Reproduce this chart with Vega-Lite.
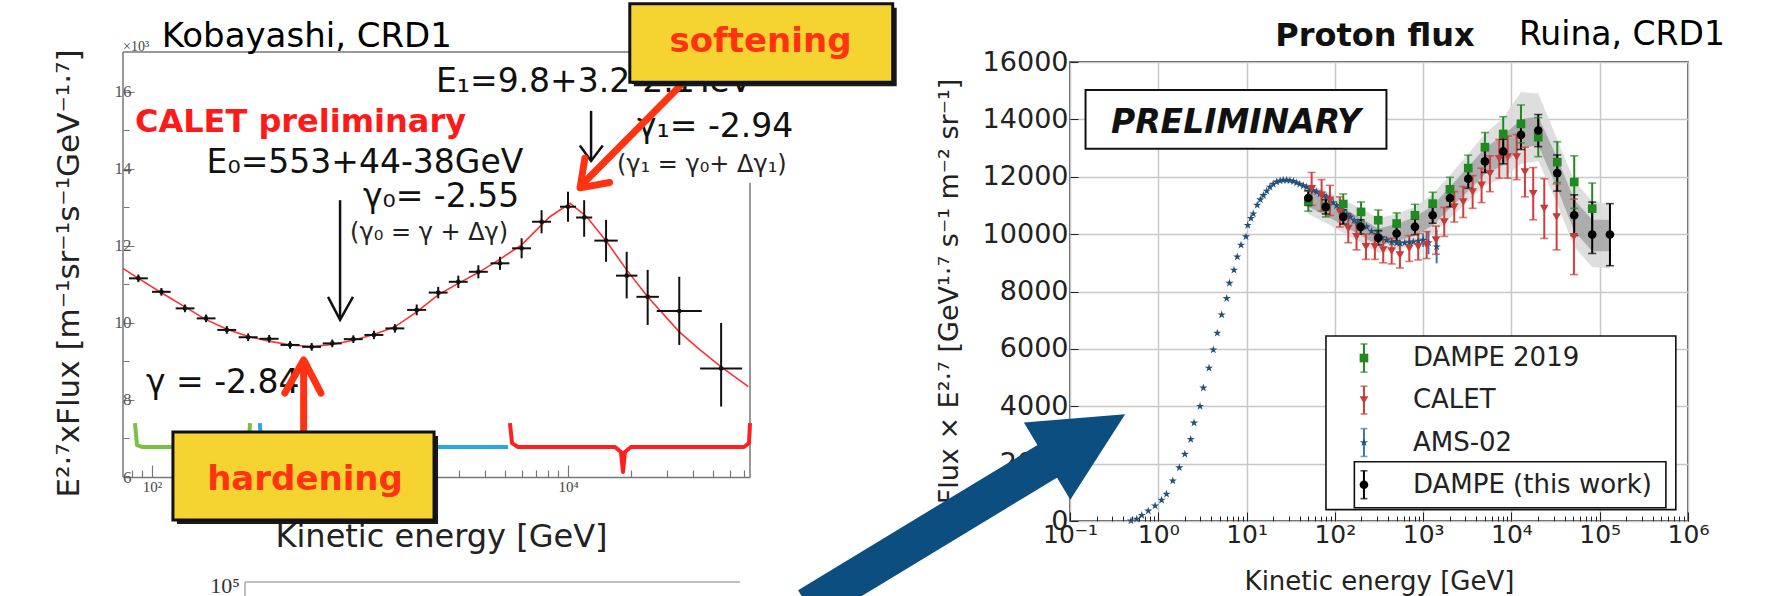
{
"$schema": "https://vega.github.io/schema/vega-lite/v6.json",
"autosize": {"type": "none"},
"padding": {"left": 123, "top": 62, "right": 1659, "bottom": 534},
"background": "white",
"spacing": 320,
"bounds": "flush",
"config": {"view": {"stroke": null}, "font": "DejaVu Sans"},
"resolve": {"scale": {"color": "independent"}, "legend": {"color": "independent"}},
"datasets": {
"calet": [
{"E":86,"v":11.16,"xlo":77.5,"xhi":95.5,"ylo":11.06,"yhi":11.26},
{"E":111,"v":10.81,"xlo":100,"xhi":123,"ylo":10.71,"yhi":10.91},
{"E":144,"v":10.38,"xlo":130,"xhi":160,"ylo":10.28,"yhi":10.48},
{"E":182,"v":10.12,"xlo":164,"xhi":202,"ylo":10.02,"yhi":10.22},
{"E":229,"v":9.82,"xlo":206,"xhi":254,"ylo":9.72,"yhi":9.92},
{"E":290,"v":9.63,"xlo":261,"xhi":322,"ylo":9.53,"yhi":9.73},
{"E":366,"v":9.59,"xlo":329,"xhi":406,"ylo":9.49,"yhi":9.69},
{"E":461,"v":9.43,"xlo":415,"xhi":512,"ylo":9.33,"yhi":9.53},
{"E":586,"v":9.38,"xlo":527,"xhi":650,"ylo":9.28,"yhi":9.48},
{"E":736,"v":9.47,"xlo":662,"xhi":817,"ylo":9.37,"yhi":9.57},
{"E":929,"v":9.58,"xlo":836,"xhi":1031,"ylo":9.48,"yhi":9.68},
{"E":1167,"v":9.69,"xlo":1050,"xhi":1295,"ylo":9.58,"yhi":9.8},
{"E":1472,"v":9.86,"xlo":1325,"xhi":1634,"ylo":9.75,"yhi":9.97},
{"E":1874,"v":10.34,"xlo":1686,"xhi":2080,"ylo":10.2,"yhi":10.48},
{"E":2377,"v":10.79,"xlo":2139,"xhi":2638,"ylo":10.64,"yhi":10.94},
{"E":2969,"v":11.07,"xlo":2672,"xhi":3295,"ylo":10.91,"yhi":11.23},
{"E":3707,"v":11.33,"xlo":3336,"xhi":4115,"ylo":11.16,"yhi":11.5},
{"E":4710,"v":11.55,"xlo":4239,"xhi":5228,"ylo":11.38,"yhi":11.72},
{"E":5985,"v":11.94,"xlo":5386,"xhi":6643,"ylo":11.68,"yhi":12.2},
{"E":7464,"v":12.63,"xlo":6717,"xhi":8285,"ylo":12.33,"yhi":12.93},
{"E":10000,"v":13.02,"xlo":9150,"xhi":10930,"ylo":12.63,"yhi":13.41},
{"E":11960,"v":12.74,"xlo":10940,"xhi":13070,"ylo":12.24,"yhi":13.19},
{"E":15240,"v":12.14,"xlo":13390,"xhi":17340,"ylo":11.59,"yhi":12.68},
{"E":19150,"v":11.23,"xlo":17010,"xhi":21560,"ylo":10.64,"yhi":11.85},
{"E":24160,"v":10.68,"xlo":21340,"xhi":27350,"ylo":9.95,"yhi":11.38},
{"E":34270,"v":10.31,"xlo":26710,"xhi":43970,"ylo":9.43,"yhi":11.2},
{"E":54470,"v":8.82,"xlo":43160,"xhi":68740,"ylo":7.83,"yhi":10.0}
],
"fit": [
{"E":72.55,"v":11.42},{"E":86,"v":11.16},{"E":110,"v":10.8},{"E":144,"v":10.42},{"E":180,"v":10.1},{"E":229,"v":9.84},{"E":290,"v":9.65},{"E":366,"v":9.53},{"E":461,"v":9.43},{"E":586,"v":9.39},{"E":736,"v":9.44},{"E":929,"v":9.55},{"E":1167,"v":9.7},{"E":1472,"v":9.9},{"E":1874,"v":10.29},{"E":2377,"v":10.73},{"E":2969,"v":11.03},{"E":3707,"v":11.31},{"E":4710,"v":11.66},{"E":5985,"v":12.03},{"E":7464,"v":12.55},{"E":8180,"v":12.76},{"E":10230,"v":13.11},{"E":12300,"v":12.76},{"E":15350,"v":12.11},{"E":19140,"v":11.38},{"E":24160,"v":10.68},{"E":34270,"v":9.77},{"E":43150,"v":9.3},{"E":54460,"v":8.86},{"E":73640,"v":8.35}
],
"brk": [
{"g":"green","o":1,"E":82.8,"v":7.4},{"g":"green","o":2,"E":84.7,"v":6.83},{"g":"green","o":3,"E":89.5,"v":6.78},{"g":"green","o":4,"E":280,"v":6.78},{"g":"green","o":5,"E":292,"v":6.83},{"g":"green","o":6,"E":296,"v":7.4},
{"g":"blue","o":1,"E":330,"v":7.4},{"g":"blue","o":2,"E":335,"v":6.83},{"g":"blue","o":3,"E":350,"v":6.78},{"g":"blue","o":4,"E":5150,"v":6.78},
{"g":"red","o":1,"E":5260,"v":7.4},{"g":"red","o":2,"E":5380,"v":6.88},{"g":"red","o":3,"E":5750,"v":6.78},{"g":"red","o":4,"E":16830,"v":6.78},{"g":"red","o":5,"E":17980,"v":6.65},{"g":"red","o":6,"E":18380,"v":6.13},{"g":"red","o":7,"E":18780,"v":6.65},{"g":"red","o":8,"E":20070,"v":6.78},{"g":"red","o":9,"E":70140,"v":6.78},{"g":"red","o":10,"E":74130,"v":6.88},{"g":"red","o":11,"E":74990,"v":7.4}
],
"frame": [
{"E":72.55,"E2":72.55,"v":6.0,"v2":17.04},
{"E":72.55,"E2":40000,"v":17.04,"v2":17.04},
{"E":74990,"E2":74990,"v":13.64,"v2":6.0}
],
"frame2": [
{"E":280,"E2":67100,"v":3.27,"v2":3.27},
{"E":280,"E2":280,"v":3.27,"v2":2.85}
],
"barr": [
{"g":"a1","o":1,"E":802,"v":13.19},{"g":"a1","o":2,"E":802,"v":10.1},
{"g":"a2","o":1,"E":702,"v":10.68},{"g":"a2","o":2,"E":802,"v":10.08},{"g":"a2","o":3,"E":925,"v":10.68},
{"g":"b1","o":1,"E":12910,"v":15.51},{"g":"b1","o":2,"E":12910,"v":14.23},
{"g":"b2","o":1,"E":11400,"v":14.61},{"g":"b2","o":2,"E":12910,"v":14.21},{"g":"b2","o":3,"E":14700,"v":14.61}
],
"rarr": [
{"g":"h1","o":1,"E":536,"v":7.09},{"g":"h1","o":2,"E":536,"v":8.98},
{"g":"h2","o":1,"E":435,"v":8.18},{"g":"h2","o":2,"E":536,"v":9.04},{"g":"h2","o":3,"E":649,"v":8.18},
{"g":"s1","o":1,"E":36900,"v":16.31},{"g":"s1","o":2,"E":11500,"v":13.56},
{"g":"s2","o":1,"E":12050,"v":14.28},{"g":"s2","o":2,"E":11430,"v":13.51},{"g":"s2","o":3,"E":15850,"v":13.65}
],
"ltxt": [
{"k":"calet","label":"CALET preliminary","E":82.8,"v":14.97},
{"k":"big","label":"E₀=553+44-38GeV","E":183,"v":13.89},
{"k":"big","label":"γ₀= -2.55","E":1033,"v":13.02},
{"k":"big","label":"E₁=9.8+3.2-2.1TeV","E":2317,"v":16.0},
{"k":"big","label":"γ₁= -2.94","E":21480,"v":14.83},
{"k":"big","label":"γ = -2.84","E":93.6,"v":8.19},
{"k":"small","label":"(γ₀ = γ + Δγ)","E":896,"v":12.16},
{"k":"small","label":"(γ₁ = γ₀+ Δγ₁)","E":17200,"v":13.92},
{"k":"x10","label":"×10³","E":72.55,"v":17.07},
{"k":"kob","label":"Kobayashi, CRD1","E":111.3,"v":17.18},
{"k":"p5","label":"10⁵","E":265,"v":2.99}
],
"lbox": [
{"k":"soft","E":19820,"E2":364000,"v":16.25,"v2":18.29},
{"k":"hard","E":126.1,"E2":2270,"v":4.88,"v2":7.17}
],
"lboxtxt": [
{"label":"softening","E":84200,"v":17.04},
{"label":"hardening","E":544,"v":5.66}
],
"flux": [
{"s":"AMS-02","E":0.49,"v":10},{"s":"AMS-02","E":0.57,"v":70},{"s":"AMS-02","E":0.65,"v":200},{"s":"AMS-02","E":0.77,"v":350},{"s":"AMS-02","E":0.92,"v":530},{"s":"AMS-02","E":1.09,"v":730},{"s":"AMS-02","E":1.24,"v":940},{"s":"AMS-02","E":1.46,"v":1400},{"s":"AMS-02","E":1.73,"v":1860},{"s":"AMS-02","E":2.0,"v":2330},{"s":"AMS-02","E":2.33,"v":2850},{"s":"AMS-02","E":2.54,"v":3420},{"s":"AMS-02","E":2.97,"v":4000},{"s":"AMS-02","E":3.24,"v":4640},{"s":"AMS-02","E":3.75,"v":5330},{"s":"AMS-02","E":4.2,"v":5970},{"s":"AMS-02","E":4.66,"v":6550},{"s":"AMS-02","E":5.22,"v":7190},{"s":"AMS-02","E":5.95,"v":7760},{"s":"AMS-02","E":6.4,"v":8290},{"s":"AMS-02","E":7.2,"v":8750},{"s":"AMS-02","E":7.85,"v":9210},{"s":"AMS-02","E":8.65,"v":9620},{"s":"AMS-02","E":9.85,"v":9910},{"s":"AMS-02","E":10.3,"v":10310},{"s":"AMS-02","E":11.2,"v":10550},{"s":"AMS-02","E":11.9,"v":10710},{"s":"AMS-02","E":13.2,"v":11010},{"s":"AMS-02","E":14.3,"v":11200},{"s":"AMS-02","E":15.5,"v":11350},{"s":"AMS-02","E":16.9,"v":11500},{"s":"AMS-02","E":18.4,"v":11640},{"s":"AMS-02","E":20,"v":11740},{"s":"AMS-02","E":21.9,"v":11820},{"s":"AMS-02","E":24,"v":11860},{"s":"AMS-02","E":26,"v":11880},{"s":"AMS-02","E":28.5,"v":11880},{"s":"AMS-02","E":31,"v":11870},{"s":"AMS-02","E":34,"v":11840},{"s":"AMS-02","E":36.9,"v":11790},{"s":"AMS-02","E":40,"v":11740},{"s":"AMS-02","E":44,"v":11690},{"s":"AMS-02","E":47.9,"v":11640},{"s":"AMS-02","E":52,"v":11580},{"s":"AMS-02","E":57,"v":11520},{"s":"AMS-02","E":62.2,"v":11470},{"s":"AMS-02","E":68,"v":11400},{"s":"AMS-02","E":74,"v":11350},{"s":"AMS-02","E":80.7,"v":11300},{"s":"AMS-02","E":88,"v":11200},{"s":"AMS-02","E":96,"v":11100},{"s":"AMS-02","E":105,"v":11000},{"s":"AMS-02","E":114,"v":10890},{"s":"AMS-02","E":125,"v":10800},{"s":"AMS-02","E":137,"v":10700},{"s":"AMS-02","E":150,"v":10600},{"s":"AMS-02","E":165,"v":10480},{"s":"AMS-02","E":180,"v":10400},{"s":"AMS-02","E":200,"v":10320},{"s":"AMS-02","E":229,"v":10250},{"s":"AMS-02","E":260,"v":10100},{"s":"AMS-02","E":300,"v":10000},{"s":"AMS-02","E":340,"v":9880},{"s":"AMS-02","E":386,"v":9790},{"s":"AMS-02","E":440,"v":9720},{"s":"AMS-02","E":500,"v":9690},{"s":"AMS-02","E":546,"v":9680},{"s":"AMS-02","E":620,"v":9700},{"s":"AMS-02","E":700,"v":9720},{"s":"AMS-02","E":773,"v":9730},{"s":"AMS-02","E":880,"v":9760},{"s":"AMS-02","E":1000,"v":9790,"lo":9550,"hi":10030},{"s":"AMS-02","E":1150,"v":9700,"lo":9300,"hi":10100},{"s":"AMS-02","E":1422,"v":9560,"lo":8980,"hi":10150},
{"s":"CALET","E":54.6,"v":11584,"lo":11000,"hi":12150},{"s":"CALET","E":70.8,"v":11354,"lo":10800,"hi":11900},{"s":"CALET","E":88,"v":11181,"lo":10650,"hi":11700},{"s":"CALET","E":114,"v":10774,"lo":10250,"hi":11300},{"s":"CALET","E":142,"v":10195,"lo":9700,"hi":10700},{"s":"CALET","E":176,"v":9906,"lo":9450,"hi":10380},{"s":"CALET","E":225,"v":9559,"lo":9120,"hi":10000},{"s":"CALET","E":284,"v":9559,"lo":9120,"hi":10000},{"s":"CALET","E":353,"v":9444,"lo":9000,"hi":9890},{"s":"CALET","E":440,"v":9409,"lo":8960,"hi":9860},{"s":"CALET","E":546,"v":9270,"lo":8820,"hi":9720},{"s":"CALET","E":697,"v":9500,"lo":9050,"hi":9950},{"s":"CALET","E":880,"v":9559,"lo":9100,"hi":10020},{"s":"CALET","E":1096,"v":9618,"lo":9150,"hi":10090},{"s":"CALET","E":1397,"v":9791,"lo":9300,"hi":10280},{"s":"CALET","E":1734,"v":10427,"lo":9920,"hi":10930},{"s":"CALET","E":2250,"v":10948,"lo":10420,"hi":11480},{"s":"CALET","E":2845,"v":11122,"lo":10580,"hi":11660},{"s":"CALET","E":3636,"v":11469,"lo":10900,"hi":12040},{"s":"CALET","E":4590,"v":11700,"lo":11100,"hi":12300},{"s":"CALET","E":5710,"v":12106,"lo":11480,"hi":12730},{"s":"CALET","E":7280,"v":12627,"lo":11950,"hi":13300},{"s":"CALET","E":9050,"v":12685,"lo":11950,"hi":13420},{"s":"CALET","E":11460,"v":12685,"lo":11900,"hi":13470},{"s":"CALET","E":14220,"v":12164,"lo":11300,"hi":13030},{"s":"CALET","E":17650,"v":11411,"lo":10500,"hi":12320},{"s":"CALET","E":23550,"v":10889,"lo":9850,"hi":11930},{"s":"CALET","E":32500,"v":10601,"lo":9450,"hi":11750},{"s":"CALET","E":51050,"v":9906,"lo":8590,"hi":11220},
{"s":"DAMPE 2019","E":50,"v":11150,"lo":10800,"hi":11500},{"s":"DAMPE 2019","E":79,"v":10950,"lo":10600,"hi":11300},{"s":"DAMPE 2019","E":124.5,"v":11050,"lo":10700,"hi":11400},{"s":"DAMPE 2019","E":198,"v":10774,"lo":10430,"hi":11120},{"s":"DAMPE 2019","E":310,"v":10486,"lo":10130,"hi":10840},{"s":"DAMPE 2019","E":501,"v":10370,"lo":10000,"hi":10740},{"s":"DAMPE 2019","E":808,"v":10659,"lo":10280,"hi":11040},{"s":"DAMPE 2019","E":1282,"v":11064,"lo":10670,"hi":11460},{"s":"DAMPE 2019","E":2012,"v":11562,"lo":11150,"hi":11980},{"s":"DAMPE 2019","E":3243,"v":12302,"lo":11850,"hi":12750},{"s":"DAMPE 2019","E":5012,"v":13031,"lo":12520,"hi":13540},{"s":"DAMPE 2019","E":8070,"v":13493,"lo":12900,"hi":14090},{"s":"DAMPE 2019","E":12820,"v":13840,"lo":13180,"hi":14500},{"s":"DAMPE 2019","E":20130,"v":13378,"lo":12700,"hi":14060},{"s":"DAMPE 2019","E":33040,"v":12510,"lo":11800,"hi":13220},{"s":"DAMPE 2019","E":51440,"v":11816,"lo":10900,"hi":12730},{"s":"DAMPE 2019","E":82200,"v":10889,"lo":10000,"hi":11780},
{"s":"DAMPE (this work)","E":50,"v":11260,"lo":11000,"hi":11520},{"s":"DAMPE (this work)","E":79,"v":10948,"lo":10700,"hi":11200},{"s":"DAMPE (this work)","E":124.5,"v":10601,"lo":10350,"hi":10850},{"s":"DAMPE (this work)","E":196,"v":10253,"lo":10000,"hi":10500},{"s":"DAMPE (this work)","E":310,"v":9871,"lo":9620,"hi":10120},{"s":"DAMPE (this work)","E":501,"v":10022,"lo":9760,"hi":10280},{"s":"DAMPE (this work)","E":808,"v":10253,"lo":9980,"hi":10520},{"s":"DAMPE (this work)","E":1282,"v":10659,"lo":10380,"hi":10940},{"s":"DAMPE (this work)","E":2012,"v":11260,"lo":10950,"hi":11570},{"s":"DAMPE (this work)","E":3243,"v":11930,"lo":11600,"hi":12260},{"s":"DAMPE (this work)","E":5012,"v":12535,"lo":12150,"hi":12920},{"s":"DAMPE (this work)","E":8070,"v":12882,"lo":12450,"hi":13310},{"s":"DAMPE (this work)","E":12820,"v":13458,"lo":12950,"hi":13960},{"s":"DAMPE (this work)","E":20130,"v":13611,"lo":13050,"hi":14170},{"s":"DAMPE (this work)","E":33040,"v":12128,"lo":11500,"hi":12760},{"s":"DAMPE (this work)","E":51440,"v":10659,"lo":9950,"hi":11370},{"s":"DAMPE (this work)","E":82200,"v":9986,"lo":9326,"hi":11118},{"s":"DAMPE (this work)","E":130600,"v":9986,"lo":8899,"hi":11063}
],
"legsym": [
{"s":"DAMPE 2019","E":213.6,"v":5681,"lo":5190,"hi":6170},
{"s":"CALET","E":213.6,"v":4217,"lo":3730,"hi":4700},
{"s":"AMS-02","E":213.6,"v":2736,"lo":2250,"hi":3220},
{"s":"DAMPE (this work)","E":213.6,"v":1265,"lo":780,"hi":1750}
],
"legtxt": [
{"label":"DAMPE 2019","E":766,"v":5681},
{"label":"CALET","E":766,"v":4217},
{"label":"AMS-02","E":766,"v":2736},
{"label":"DAMPE (this work)","E":766,"v":1265}
],
"legbox": [
{"E":79.3,"E2":728000,"v":397,"v2":6448},
{"E":166.3,"E2":562000,"v":464,"v2":2067}
],
"band": [
{"E":50,"dlo":10950,"dhi":11550,"llo":10700,"lhi":11750},
{"E":79,"dlo":10650,"dhi":11250,"llo":10400,"lhi":11500},
{"E":124.5,"dlo":10300,"dhi":10900,"llo":10050,"lhi":11200},
{"E":196,"dlo":9950,"dhi":10550,"llo":9700,"lhi":10900},
{"E":310,"dlo":9600,"dhi":10200,"llo":9350,"lhi":10550},
{"E":501,"dlo":9750,"dhi":10350,"llo":9450,"lhi":10700},
{"E":808,"dlo":9950,"dhi":10600,"llo":9650,"lhi":10950},
{"E":1282,"dlo":10300,"dhi":11000,"llo":10000,"lhi":11400},
{"E":2012,"dlo":10900,"dhi":11650,"llo":10550,"lhi":12050},
{"E":3243,"dlo":11500,"dhi":12350,"llo":11150,"lhi":12800},
{"E":5012,"dlo":12100,"dhi":13000,"llo":11700,"lhi":13500},
{"E":8070,"dlo":12400,"dhi":13450,"llo":11950,"lhi":14050},
{"E":12820,"dlo":13000,"dhi":14000,"llo":12450,"lhi":14950},
{"E":20130,"dlo":13100,"dhi":14100,"llo":12550,"lhi":14900},
{"E":33040,"dlo":11600,"dhi":12650,"llo":11050,"lhi":13300},
{"E":51440,"dlo":10100,"dhi":11200,"llo":9550,"lhi":11850},
{"E":82200,"dlo":9400,"dhi":10500,"llo":8850,"lhi":11150},
{"E":130600,"dlo":9400,"dhi":10500,"llo":8800,"lhi":11050}
],
"prect": [{"E":0.15,"E2":384,"v":12977,"v2":15023}],
"ptxt": [
{"k":"pre","label":"PRELIMINARY","E":7.59,"v":13524},
{"k":"ruina","label":"Ruina, CRD1","E":12160,"v":16591},
{"k":"title","label":"Proton flux","E":284.6,"v":16556}
],
"shaft": [{"E":0.0001076,"v":-2977,"E2":0.0901,"v2":2475}],
"head": [{"E":0.1507,"v":2893}]
},
"hconcat": [
{
"width": 627, "height": 415,
"encoding": {
"x": {"field": "E", "type": "quantitative", "title": "Kinetic energy [GeV]",
 "scale": {"type": "log", "domain": [72.55, 74990], "nice": false},
 "axis": {"values": [80,90,100,200,300,400,500,600,700,800,900,1000,2000,3000,4000,5000,6000,7000,8000,9000,10000,20000,30000,40000,50000,60000,70000],
  "labelExpr": "datum.value == 100 ? '10²' : datum.value == 1000 ? '10³' : datum.value == 10000 ? '10⁴' : ''",
  "labelFont": "Liberation Serif", "labelFontSize": 15, "labelColor": "#444", "labelPadding": 14, "labelOverlap": false, "labelFlush": false,
  "tickSize": {"condition": {"test": "datum.value == 100 || datum.value == 1000 || datum.value == 10000", "value": -12}, "value": -7},
  "tickColor": "#777", "tickWidth": 1.2, "domainColor": "#777", "domainWidth": 1.5, "grid": false,
  "titleFont": "DejaVu Sans", "titleFontSize": 32, "titleFontWeight": "normal", "titleColor": "#222", "titleX": 318, "titleY": 69, "titleBaseline": "alphabetic", "titleAlign": "center"}},
"y": {"field": "v", "type": "quantitative", "title": "E²·⁷xFlux [m⁻¹sr⁻¹s⁻¹GeV⁻¹·⁷]",
 "scale": {"domain": [6, 16.7792], "nice": false, "zero": false},
 "axis": {"values": [6,7,8,9,10,11,12,13,14,15,16],
  "labelExpr": "datum.value % 2 == 0 ? datum.label : ''",
  "labelFont": "Liberation Serif", "labelFontSize": 17, "labelColor": "#555", "labelPadding": 3,
  "tickSize": {"condition": {"test": "datum.value % 2 == 0", "value": -11}, "value": -6},
  "tickColor": "#777", "domain": false, "grid": false,
  "titleFont": "DejaVu Sans", "titleFontSize": 31, "titleFontWeight": "normal", "titleColor": "#222", "titleX": -54, "titleY": 211, "titleBaseline": "middle", "titleAlign": "center", "titleAngle": -90}}
},
"layer": [
{"data": {"name": "frame"}, "mark": {"type": "rule", "color": "#777", "strokeWidth": 1.5}, "encoding": {"x2": {"field": "E2"}, "y2": {"field": "v2"}}},
{"data": {"name": "frame2"}, "mark": {"type": "rule", "color": "#aaa", "strokeWidth": 1.5}, "encoding": {"x2": {"field": "E2"}, "y2": {"field": "v2"}}},
{"data": {"name": "brk"}, "mark": {"type": "line", "strokeWidth": 4, "strokeJoin": "round"},
 "encoding": {"color": {"field": "g", "type": "nominal", "scale": {"domain": ["green","blue","red"], "range": ["#7ac143","#27aae1","#ff1f1f"]}, "legend": null}, "order": {"field": "o", "type": "quantitative"}}},
{"data": {"name": "fit"}, "mark": {"type": "line", "color": "#ff3030", "strokeWidth": 1.6}, "encoding": {}},
{"data": {"name": "calet"}, "mark": {"type": "rule", "color": "#111", "strokeWidth": 2},
 "encoding": {"y": {"field": "ylo", "type": "quantitative", "title": "E²·⁷xFlux [m⁻¹sr⁻¹s⁻¹GeV⁻¹·⁷]"}, "y2": {"field": "yhi"}}},
{"data": {"name": "calet"}, "mark": {"type": "rule", "color": "#111", "strokeWidth": 2},
 "encoding": {"x": {"field": "xlo", "type": "quantitative", "title": "Kinetic energy [GeV]"}, "x2": {"field": "xhi"}}},
{"data": {"name": "calet"}, "mark": {"type": "circle", "size": 22, "color": "#111", "opacity": 1}},
{"data": {"name": "barr"}, "mark": {"type": "line", "color": "#111", "strokeWidth": 2.5},
 "encoding": {"detail": {"field": "g"}, "order": {"field": "o", "type": "quantitative"}}},
{"data": {"name": "ltxt"}, "transform": [{"filter": "datum.k == 'calet'"}], "mark": {"type": "text", "align": "left", "baseline": "alphabetic", "font": "DejaVu Sans", "fontWeight": "bold", "fontSize": 32, "color": "#ff1a1a"}, "encoding": {"text": {"field": "label"}}},
{"data": {"name": "ltxt"}, "transform": [{"filter": "datum.k == 'big'"}], "mark": {"type": "text", "align": "left", "baseline": "alphabetic", "font": "DejaVu Sans", "fontSize": 33, "color": "#111"}, "encoding": {"text": {"field": "label"}}},
{"data": {"name": "ltxt"}, "transform": [{"filter": "datum.k == 'small'"}], "mark": {"type": "text", "align": "left", "baseline": "alphabetic", "font": "DejaVu Sans", "fontSize": 24, "color": "#222"}, "encoding": {"text": {"field": "label"}}},
{"data": {"name": "ltxt"}, "transform": [{"filter": "datum.k == 'x10'"}], "mark": {"type": "text", "align": "left", "baseline": "alphabetic", "font": "Liberation Serif", "fontSize": 14, "color": "#444"}, "encoding": {"text": {"field": "label"}}},
{"data": {"name": "ltxt"}, "transform": [{"filter": "datum.k == 'kob'"}], "mark": {"type": "text", "align": "left", "baseline": "alphabetic", "font": "DejaVu Sans", "fontSize": 34, "color": "#000"}, "encoding": {"text": {"field": "label"}}},
{"data": {"name": "ltxt"}, "transform": [{"filter": "datum.k == 'p5'"}], "mark": {"type": "text", "align": "right", "baseline": "alphabetic", "font": "Liberation Serif", "fontSize": 22, "color": "#333"}, "encoding": {"text": {"field": "label"}}},
{"data": {"name": "rarr"}, "mark": {"type": "line", "color": "#ff3311", "strokeWidth": 7, "strokeCap": "round", "strokeJoin": "round"},
 "encoding": {"detail": {"field": "g"}, "order": {"field": "o", "type": "quantitative"}}},
{"data": {"name": "lbox"}, "mark": {"type": "rect", "fill": "#1a1a1a", "xOffset": 4, "x2Offset": 4, "yOffset": 4, "y2Offset": 4}, "encoding": {"x2": {"field": "E2"}, "y2": {"field": "v2"}}},
{"data": {"name": "lbox"}, "mark": {"type": "rect", "fill": "#f5d330", "stroke": "#111", "strokeWidth": 3}, "encoding": {"x2": {"field": "E2"}, "y2": {"field": "v2"}}},
{"data": {"name": "lboxtxt"}, "mark": {"type": "text", "align": "center", "baseline": "alphabetic", "font": "DejaVu Sans", "fontWeight": "bold", "fontSize": 34, "color": "#ff3311"}, "encoding": {"text": {"field": "label"}}}
]
},
{
"width": 618, "height": 459,
"view": {"stroke": "#222", "strokeWidth": 1.5},
"encoding": {
"x": {"field": "E", "type": "quantitative", "title": "Kinetic energy [GeV]",
 "scale": {"type": "log", "domain": [0.1, 1000000], "nice": false},
 "axis": {"values": [0.1,0.2,0.3,0.4,0.5,0.6,0.7,0.8,0.9,1,2,3,4,5,6,7,8,9,10,20,30,40,50,60,70,80,90,100,200,300,400,500,600,700,800,900,1000,2000,3000,4000,5000,6000,7000,8000,9000,10000,20000,30000,40000,50000,60000,70000,80000,90000,100000,200000,300000,400000,500000,600000,700000,800000,900000,1000000],
  "labelExpr": "datum.value == 0.1 ? '10⁻¹' : datum.value == 1 ? '10⁰' : datum.value == 10 ? '10¹' : datum.value == 100 ? '10²' : datum.value == 1000 ? '10³' : datum.value == 10000 ? '10⁴' : datum.value == 100000 ? '10⁵' : datum.value == 1000000 ? '10⁶' : ''",
  "labelFont": "DejaVu Sans", "labelFontSize": 25, "labelColor": "#222", "labelPadding": 10, "labelOverlap": false, "labelFlush": false,
  "tickSize": {"condition": {"test": "indexof([0.1,1,10,100,1000,10000,100000,1000000], datum.value) >= 0", "value": -9}, "value": -5},
  "tickColor": "#222", "domain": false,
  "grid": true, "gridColor": "#c8c8c8", "gridWidth": 1.5,
  "gridOpacity": {"condition": {"test": "indexof([0.1,1,10,100,1000,10000,100000,1000000], datum.value) >= 0", "value": 1}, "value": 0},
  "titleFont": "DejaVu Sans", "titleFontSize": 26, "titleFontWeight": "normal", "titleColor": "#222", "titleX": 309, "titleY": 68, "titleBaseline": "alphabetic", "titleAlign": "center"}},
"y": {"field": "v", "type": "quantitative", "title": "Flux × E²·⁷ [GeV¹·⁷ s⁻¹ m⁻² sr⁻¹]",
 "scale": {"domain": [0, 16000], "nice": false},
 "axis": {"values": [0,2000,4000,6000,8000,10000,12000,14000,16000], "format": "d",
  "labelFont": "DejaVu Sans", "labelFontSize": 27, "labelColor": "#222", "labelPadding": 10,
  "tickSize": -8, "tickColor": "#222", "domain": false,
  "grid": true, "gridColor": "#c8c8c8", "gridWidth": 1.5,
  "titleFont": "DejaVu Sans", "titleFontSize": 27, "titleFontWeight": "normal", "titleColor": "#222", "titleX": -121, "titleY": 229, "titleBaseline": "middle", "titleAlign": "center", "titleAngle": -90}}
},
"layer": [
{"data": {"name": "band"}, "mark": {"type": "area", "color": "#dadada", "opacity": 0.9},
 "encoding": {"y": {"field": "llo", "type": "quantitative", "title": "Flux × E²·⁷ [GeV¹·⁷ s⁻¹ m⁻² sr⁻¹]"}, "y2": {"field": "lhi"}}},
{"data": {"name": "band"}, "mark": {"type": "area", "color": "#a0a0a0", "opacity": 0.8},
 "encoding": {"y": {"field": "dlo", "type": "quantitative", "title": "Flux × E²·⁷ [GeV¹·⁷ s⁻¹ m⁻² sr⁻¹]"}, "y2": {"field": "dhi"}}},
{"data": {"name": "flux"}, "transform": [{"filter": "datum.hi > datum.lo"}], "mark": {"type": "rule", "strokeWidth": 2},
 "encoding": {"y": {"field": "lo", "type": "quantitative", "title": "Flux × E²·⁷ [GeV¹·⁷ s⁻¹ m⁻² sr⁻¹]"}, "y2": {"field": "hi"},
  "color": {"field": "s", "type": "nominal", "scale": {"domain": ["DAMPE 2019","CALET","AMS-02","DAMPE (this work)"], "range": ["#1f8a1f","#d23c3c","#3a78b0","#000000"]}, "legend": null}}},
{"data": {"name": "flux"}, "transform": [{"filter": "datum.hi > datum.lo && datum.s != 'AMS-02'"}], "mark": {"type": "tick", "orient": "horizontal", "size": 8, "thickness": 1.6},
 "encoding": {"y": {"field": "lo", "type": "quantitative", "title": "Flux × E²·⁷ [GeV¹·⁷ s⁻¹ m⁻² sr⁻¹]"},
  "color": {"field": "s", "type": "nominal", "scale": {"domain": ["DAMPE 2019","CALET","AMS-02","DAMPE (this work)"], "range": ["#1f8a1f","#d23c3c","#3a78b0","#000000"]}, "legend": null}}},
{"data": {"name": "flux"}, "transform": [{"filter": "datum.hi > datum.lo && datum.s != 'AMS-02'"}], "mark": {"type": "tick", "orient": "horizontal", "size": 8, "thickness": 1.6},
 "encoding": {"y": {"field": "hi", "type": "quantitative", "title": "Flux × E²·⁷ [GeV¹·⁷ s⁻¹ m⁻² sr⁻¹]"},
  "color": {"field": "s", "type": "nominal", "scale": {"domain": ["DAMPE 2019","CALET","AMS-02","DAMPE (this work)"], "range": ["#1f8a1f","#d23c3c","#3a78b0","#000000"]}, "legend": null}}},
{"data": {"name": "flux"}, "mark": {"type": "point", "filled": true, "opacity": 1, "strokeWidth": 0},
 "encoding": {
  "fill": {"field": "s", "type": "nominal", "scale": {"domain": ["DAMPE 2019","CALET","AMS-02","DAMPE (this work)"], "range": ["#1f8a1f","#c83a3a","#24507a","#000000"]}, "legend": null},
  "shape": {"field": "s", "type": "nominal", "scale": {"domain": ["DAMPE 2019","CALET","AMS-02","DAMPE (this work)"], "range": ["square","triangle-down","M0,-1L0.2245,-0.309L0.951,-0.309L0.363,0.118L0.588,0.809L0,0.382L-0.588,0.809L-0.363,0.118L-0.951,-0.309L-0.2245,-0.309Z","circle"]}, "legend": null},
  "size": {"field": "s", "type": "nominal", "scale": {"domain": ["DAMPE 2019","CALET","AMS-02","DAMPE (this work)"], "range": [75, 75, 70, 110]}, "legend": null}
 }},
{"data": {"name": "legbox"}, "mark": {"type": "rect", "fill": "white", "fillOpacity": 1, "stroke": "#111", "strokeWidth": 1.6}, "encoding": {"x2": {"field": "E2"}, "y2": {"field": "v2"}}},
{"data": {"name": "legsym"}, "mark": {"type": "rule", "strokeWidth": 2},
 "encoding": {"y": {"field": "lo", "type": "quantitative", "title": "Flux × E²·⁷ [GeV¹·⁷ s⁻¹ m⁻² sr⁻¹]"}, "y2": {"field": "hi"},
  "color": {"field": "s", "type": "nominal", "scale": {"domain": ["DAMPE 2019","CALET","AMS-02","DAMPE (this work)"], "range": ["#1f8a1f","#d23c3c","#3a78b0","#000000"]}, "legend": null}}},
{"data": {"name": "legsym"}, "mark": {"type": "tick", "orient": "horizontal", "size": 7, "thickness": 1.6},
 "encoding": {"y": {"field": "lo", "type": "quantitative", "title": "Flux × E²·⁷ [GeV¹·⁷ s⁻¹ m⁻² sr⁻¹]"},
  "color": {"field": "s", "type": "nominal", "scale": {"domain": ["DAMPE 2019","CALET","AMS-02","DAMPE (this work)"], "range": ["#1f8a1f","#d23c3c","#3a78b0","#000000"]}, "legend": null}}},
{"data": {"name": "legsym"}, "mark": {"type": "tick", "orient": "horizontal", "size": 7, "thickness": 1.6},
 "encoding": {"y": {"field": "hi", "type": "quantitative", "title": "Flux × E²·⁷ [GeV¹·⁷ s⁻¹ m⁻² sr⁻¹]"},
  "color": {"field": "s", "type": "nominal", "scale": {"domain": ["DAMPE 2019","CALET","AMS-02","DAMPE (this work)"], "range": ["#1f8a1f","#d23c3c","#3a78b0","#000000"]}, "legend": null}}},
{"data": {"name": "legsym"}, "mark": {"type": "point", "filled": true, "opacity": 1, "strokeWidth": 0},
 "encoding": {
  "fill": {"field": "s", "type": "nominal", "scale": {"domain": ["DAMPE 2019","CALET","AMS-02","DAMPE (this work)"], "range": ["#1f8a1f","#c83a3a","#24507a","#000000"]}, "legend": null},
  "shape": {"field": "s", "type": "nominal", "scale": {"domain": ["DAMPE 2019","CALET","AMS-02","DAMPE (this work)"], "range": ["square","triangle-down","M0,-1L0.2245,-0.309L0.951,-0.309L0.363,0.118L0.588,0.809L0,0.382L-0.588,0.809L-0.363,0.118L-0.951,-0.309L-0.2245,-0.309Z","circle"]}, "legend": null},
  "size": {"field": "s", "type": "nominal", "scale": {"domain": ["DAMPE 2019","CALET","AMS-02","DAMPE (this work)"], "range": [75, 75, 70, 110]}, "legend": null}
 }},
{"data": {"name": "legtxt"}, "mark": {"type": "text", "align": "left", "baseline": "middle", "font": "DejaVu Sans", "fontSize": 26, "color": "#222"}, "encoding": {"text": {"field": "label"}}},
{"data": {"name": "prect"}, "mark": {"type": "rect", "fill": "white", "stroke": "#111", "strokeWidth": 2}, "encoding": {"x2": {"field": "E2"}, "y2": {"field": "v2"}}},
{"data": {"name": "ptxt"}, "transform": [{"filter": "datum.k == 'pre'"}], "mark": {"type": "text", "align": "center", "baseline": "alphabetic", "font": "DejaVu Sans", "fontSize": 33, "fontWeight": "bold", "fontStyle": "italic", "color": "#111"}, "encoding": {"text": {"field": "label"}}},
{"data": {"name": "ptxt"}, "transform": [{"filter": "datum.k == 'title'"}], "mark": {"type": "text", "align": "center", "baseline": "alphabetic", "font": "DejaVu Sans", "fontSize": 32, "fontWeight": "bold", "color": "#111"}, "encoding": {"text": {"field": "label"}}},
{"data": {"name": "ptxt"}, "transform": [{"filter": "datum.k == 'ruina'"}], "mark": {"type": "text", "align": "left", "baseline": "alphabetic", "font": "DejaVu Sans", "fontSize": 33, "color": "#000"}, "encoding": {"text": {"field": "label"}}},
{"data": {"name": "shaft"}, "mark": {"type": "rule", "color": "#0c4e80", "strokeWidth": 38, "strokeCap": "butt"}, "encoding": {"x2": {"field": "E2"}, "y2": {"field": "v2"}}},
{"data": {"name": "head"}, "mark": {"type": "point", "shape": "M0,-1L0.98,0.98L-0.98,0.98Z", "size": 8464, "angle": 59, "filled": true, "color": "#0c4e80", "opacity": 1}}
]
}
]
}
